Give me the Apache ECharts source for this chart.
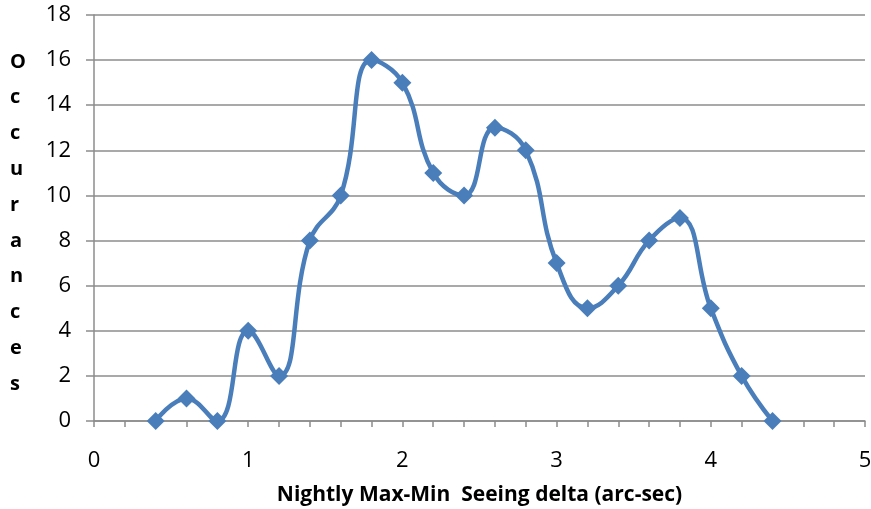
<!DOCTYPE html>
<html>
<head>
<meta charset="utf-8">
<script src="https://cdn.jsdelivr.net/npm/echarts@6/dist/echarts.min.js"></script>
<style>
html,body{margin:0;padding:0;background:#fff;}
#chart{width:871px;height:509px;}
</style>
</head>
<body>
<div id="chart"></div>
<script>
// Nightly seeing spread (arc-sec) and how often each spread occurred
const seeingDelta = [0.4, 0.6, 0.8, 1.0, 1.2, 1.4, 1.6, 1.8, 2.0, 2.2, 2.4, 2.6, 2.8, 3.0, 3.2, 3.4, 3.6, 3.8, 4.0, 4.2, 4.4];
const occurances = [0, 1, 0, 4, 2, 8, 10, 16, 15, 11, 10, 13, 12, 7, 5, 6, 8, 9, 5, 2, 0];
const yTitleLetters = ['O', 'c', 'c', 'u', 'r', 'a', 'n', 'c', 'e', 's'];
const xTitle = 'Nightly Max-Min  Seeing delta (arc-sec)';

const font = 'Open Sans';
const gridColor = '#8c8c8c';
const chart = echarts.init(document.getElementById('chart'));
chart.setOption({
  animation: false,
  backgroundColor: '#ffffff',
  grid: { left: 94, right: 6, top: 15, bottom: 88, containLabel: false, outerBoundsMode: 'none' },
  xAxis: {
    type: 'value', min: 0, max: 5, interval: 1,
    axisLine: { show: true, lineStyle: { color: gridColor, width: 1.5 } },
    axisTick: { show: true, length: 6, lineStyle: { color: gridColor, width: 1.5 } },
    minorTick: { show: true, splitNumber: 5, length: 6, lineStyle: { color: gridColor, width: 1.5 } },
    splitLine: { show: false },
    axisLabel: { color: '#000', fontSize: 22, fontFamily: font, margin: 29 },
    name: xTitle, nameLocation: 'middle', nameGap: 64,
    nameTextStyle: { color: '#000', fontSize: 21, fontWeight: 'bold', fontFamily: font }
  },
  yAxis: {
    type: 'value', min: 0, max: 18, interval: 2,
    axisLine: { show: true, lineStyle: { color: gridColor, width: 1.5 } },
    axisTick: { show: true, length: 8, lineStyle: { color: gridColor, width: 1.5 } },
    splitLine: { show: true, lineStyle: { color: gridColor, width: 1.5 } },
    axisLabel: { color: '#000', fontSize: 22, fontFamily: font, margin: 23 }
  },
  graphic: [{
    type: 'text', left: 10, top: 44,
    style: {
      text: yTitleLetters.join('\n'),
      fill: '#000', fontSize: 20, fontWeight: 'bold', fontFamily: font,
      lineHeight: 35.8, align: 'center'
    }
  }],
  series: [{
    type: 'line',
    data: seeingDelta.map((x, i) => [x, occurances[i]]),
    smooth: 0.45,
    symbol: 'diamond', symbolSize: 18,
    lineStyle: { color: '#4a7ebb', width: 4.5 },
    itemStyle: { color: '#4a7ebb' }
  }]
});
</script>
</body>
</html>
